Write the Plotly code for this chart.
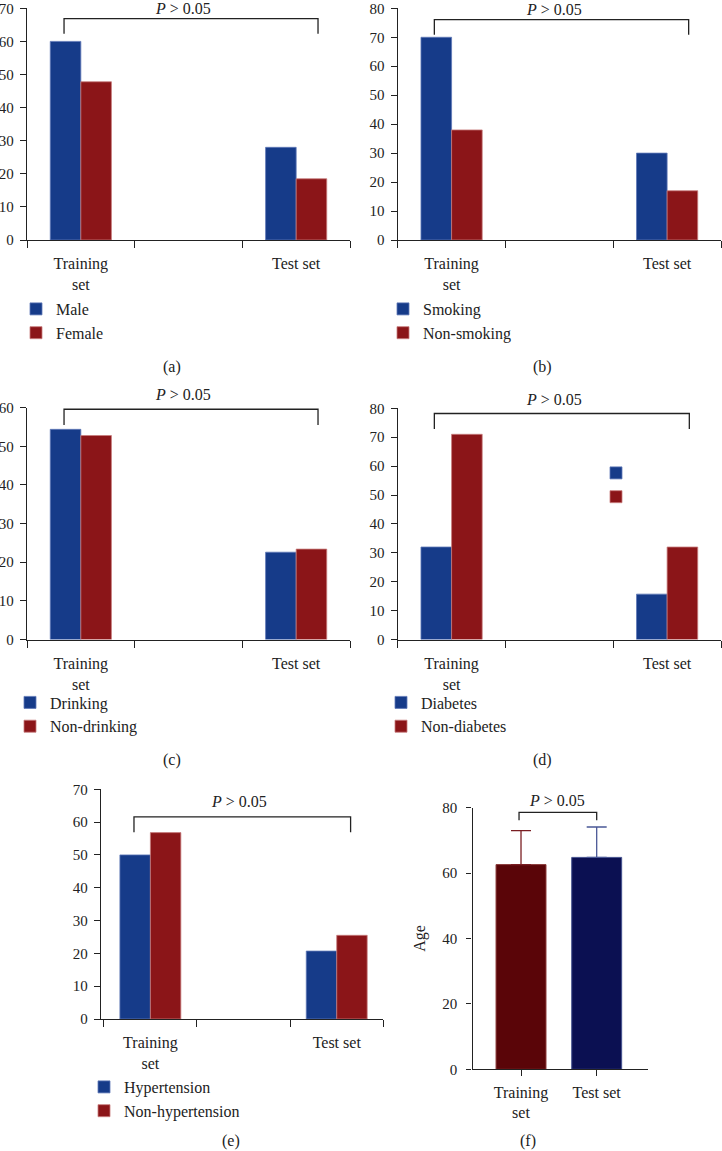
import plotly.graph_objects as go

# ---------------- data ----------------
groups = ["Training<br>set", "Test set"]

a_names = ["Male", "Female"]
a_vals1 = [60, 28]
a_vals2 = [47.8, 18.5]

b_names = ["Smoking", "Non-smoking"]
b_vals1 = [70, 30]
b_vals2 = [38, 17]

c_names = ["Drinking", "Non-drinking"]
c_vals1 = [54.4, 22.6]
c_vals2 = [52.8, 23.4]

d_names = ["Diabetes", "Non-diabetes"]
d_vals1 = [32, 15.7]
d_vals2 = [71, 32]

e_names = ["Hypertension", "Non-hypertension"]
e_vals1 = [50, 20.7]
e_vals2 = [56.8, 25.5]

f_groups = ["Training<br>set", "Test set"]
f_mean = [62.6, 64.8]
f_sd = [10.4, 9.3]

p_text = "<i>P</i> > 0.05"
captions = ["(a)", "(b)", "(c)", "(d)", "(e)", "(f)"]

# ---------------- style ----------------
W, H = 722, 1151
FONT = "Liberation Serif"
INK = "#222222"
BLUE = "#163b89"
RED = "#8b1518"
BLUE_EDGE = "#5f78b8"
RED_EDGE = "#c87c7c"
F_RED = "#5a0508"
F_BLUE = "#0b1052"


def fx(p):
    return p / W


def fy(p):
    return 1 - p / H


fig = go.Figure()

panels = [
    dict(id="", box=(27, 350, 8.3, 240), ymax=70, dtick=10, xr=[0, 3], bw=0.284,
         names=a_names, v1=a_vals1, v2=a_vals2, leg=(16, 292),
         br=(0.344, 2.703, 66.9, 62.3), ptx=1.45, psh=1, pad=0),
    dict(id="2", box=(397.7, 721, 8.3, 240), ymax=80, dtick=10, xr=[0, 3], bw=0.284,
         names=b_names, v1=b_vals1, v2=b_vals2, leg=(383, 292),
         br=(0.340, 2.700, 76.1, 70.9), ptx=1.45, psh=1, pad=0),
    dict(id="3", box=(27, 350, 407.7, 639.5), ymax=60, dtick=10, xr=[0, 3], bw=0.284,
         names=c_names, v1=c_vals1, v2=c_vals2, leg=(10, 685.5),
         br=(0.344, 2.703, 59.6, 55.5), ptx=1.45, psh=4, pad=1),
    dict(id="4", box=(397.7, 721, 408.3, 639.5), ymax=80, dtick=10, xr=[0, 3], bw=0.284,
         names=d_names, v1=d_vals1, v2=d_vals2, leg=(381, 685.5),
         br=(0.340, 2.706, 78.2, 72.8), ptx=1.45, psh=4, pad=1),
    dict(id="5", box=(101, 383.3, 789.3, 1019), ymax=70, dtick=10, xr=[-0.03, 3.0], bw=0.327,
         names=e_names, v1=e_vals1, v2=e_vals2, leg=(84, 1070),
         br=(0.324, 2.649, 61.6, 56.9), ptx=1.45, psh=5, pad=1),
]

pos = [2 * i + 0.5 for i in range(len(groups))]

shapes = []
annotations = []
layout_extra = {}

for k, p in enumerate(panels):
    l, r, t, b = p["box"]
    xa = "x" + p["id"]
    ya = "y" + p["id"]
    legname = "legend" + p["id"]
    fig.add_trace(go.Bar(
        x=pos, y=p["v1"], name=p["names"][0], xaxis=xa, yaxis=ya,
        width=p["bw"], offset=-p["bw"],
        marker=dict(color=BLUE, line=dict(color=BLUE_EDGE, width=0.8)),
        legend=legname, hoverinfo="y"))
    fig.add_trace(go.Bar(
        x=pos, y=p["v2"], name=p["names"][1], xaxis=xa, yaxis=ya,
        width=p["bw"], offset=0,
        marker=dict(color=RED, line=dict(color=RED_EDGE, width=0.8)),
        legend=legname, hoverinfo="y"))

    layout_extra["xaxis" + p["id"]] = dict(
        domain=[fx(l), fx(r)], anchor=ya, range=p["xr"], automargin=False,
        tickmode="array", tickvals=pos, ticktext=groups, ticks="",
        showline=True, linecolor=INK, linewidth=1.3, showgrid=False, zeroline=False,
        tickfont=dict(family=FONT, size=16, color=INK), ticklabelstandoff=9,
        minor=dict(tickmode="array", tickvals=[0, 1, 2, 3], ticks="outside",
                   ticklen=7, tickwidth=1.3, tickcolor=INK, showgrid=False),
        fixedrange=True)
    layout_extra["yaxis" + p["id"]] = dict(
        domain=[fy(b), fy(t)], anchor=xa, range=[0, p["ymax"]], dtick=p["dtick"],
        tickmode="linear", tick0=0, automargin=False,
        showline=True, linecolor=INK, linewidth=1.3, showgrid=False, zeroline=False,
        ticks="outside", ticklen=6, tickwidth=1.3, tickcolor=INK,
        tickfont=dict(family=FONT, size=15, color=INK), ticklabelstandoff=3,
        fixedrange=True)
    lx, ly = p["leg"]
    layout_extra[legname] = dict(
        x=fx(lx), y=fy(ly), xanchor="left", yanchor="top",
        font=dict(family=FONT, size=16, color=INK), bgcolor="rgba(0,0,0,0)",
        tracegroupgap=0, traceorder="normal")

    x0, x1, ytop, ybot = p["br"]
    shapes.append(dict(type="path", xref=xa, yref=ya,
                       path=f"M {x0},{ybot} L {x0},{ytop} L {x1},{ytop} L {x1},{ybot}",
                       line=dict(color=INK, width=1.3)))
    annotations.append(dict(xref=xa, yref=ya, x=p["ptx"], y=ytop, yanchor="bottom",
                            yshift=p["psh"], borderpad=p["pad"], text=p_text,
                            showarrow=False, font=dict(family=FONT, size=16, color=INK)))

# floating legend swatches in panel (d) (labels missing in the original)
fig.add_trace(go.Bar(x=[None], y=[None], name=" ", xaxis="x4", yaxis="y4",
                     marker=dict(color=BLUE, line=dict(color=BLUE_EDGE, width=0.8)),
                     legend="legend7", hoverinfo="skip"))
fig.add_trace(go.Bar(x=[None], y=[None], name=" ", xaxis="x4", yaxis="y4",
                     marker=dict(color=RED, line=dict(color=RED_EDGE, width=0.8)),
                     legend="legend7", hoverinfo="skip"))
layout_extra["legend7"] = dict(
    x=fx(596), y=fy(456), xanchor="left", yanchor="top",
    font=dict(family=FONT, size=16, color=INK), bgcolor="rgba(0,0,0,0)",
    tracegroupgap=0, traceorder="normal")

# ---------------- panel (f) ----------------
f_cols = [F_RED, F_BLUE]
f_edges = ["#8a3a3a", "#45528f"]
f_err = ["#7a1e22", "#4a5896"]
for i, g in enumerate(f_groups):
    fig.add_trace(go.Bar(
        x=[g], y=[f_mean[i]], xaxis="x6", yaxis="y6", width=0.66,
        marker=dict(color=f_cols[i], line=dict(color=f_edges[i], width=1)),
        error_y=dict(type="data", array=[f_sd[i]], arrayminus=[0], symmetric=False,
                     color=f_err[i], thickness=1.3, width=10),
        showlegend=False, hoverinfo="y"))

layout_extra["xaxis6"] = dict(
    domain=[fx(472.5), fx(647.7)], anchor="y6", range=[-0.641, 1.674], automargin=False,
    type="category", categoryorder="array", categoryarray=f_groups,
    showline=True, linecolor=INK, linewidth=1.3, showgrid=False, zeroline=False,
    ticks="outside", ticklen=6, tickwidth=1.3, tickcolor=INK,
    tickfont=dict(family=FONT, size=16, color=INK), ticklabelstandoff=2,
    fixedrange=True)
layout_extra["yaxis6"] = dict(
    domain=[fy(1069.3), fy(807.7)], anchor="x6", range=[0, 80], dtick=20,
    tickmode="linear", tick0=0, automargin=False,
    showline=True, linecolor=INK, linewidth=1.3, showgrid=False, zeroline=False,
    ticks="outside", ticklen=5, tickwidth=1.3, tickcolor=INK,
    tickfont=dict(family=FONT, size=15, color=INK), ticklabelstandoff=6,
    title=dict(text="Age", font=dict(family=FONT, size=16, color=INK), standoff=12),
    fixedrange=True)
shapes.append(dict(type="path", xref="x6", yref="y6",
                   path="M -0.026,76.2 L -0.026,78.6 L 1.0,78.6 L 1.0,76.2",
                   line=dict(color=INK, width=1.3)))
annotations.append(dict(xref="x6", yref="y6", x=0.48, y=78.6, yanchor="bottom",
                        yshift=1, text=p_text, showarrow=False,
                        font=dict(family=FONT, size=16, color=INK)))

# captions: (x, y, yanchor)
cap_pos = [(172, 367, "middle"), (542.7, 367, "middle"), (172.3, 760, "middle"),
           (542.7, 760, "middle"), (231, 1151, "bottom"), (528.3, 1151, "bottom")]
for c, (cx, cy, anc) in zip(captions, cap_pos):
    annotations.append(dict(xref="paper", yref="paper", x=fx(cx), y=fy(cy),
                            xanchor="center", yanchor=anc, borderpad=0, text=c,
                            showarrow=False, font=dict(family=FONT, size=16, color=INK)))

fig.update_layout(
    template="none",
    width=W, height=H, margin=dict(l=0, r=0, t=0, b=0, autoexpand=False),
    paper_bgcolor="white", plot_bgcolor="white",
    barmode="overlay", showlegend=True,
    shapes=shapes, annotations=annotations,
    font=dict(family=FONT, size=15, color=INK),
    **layout_extra,
)

fig.write_html("out.html", config={"displayModeBar": False},
               post_script="document.body.style.margin='0px';")
